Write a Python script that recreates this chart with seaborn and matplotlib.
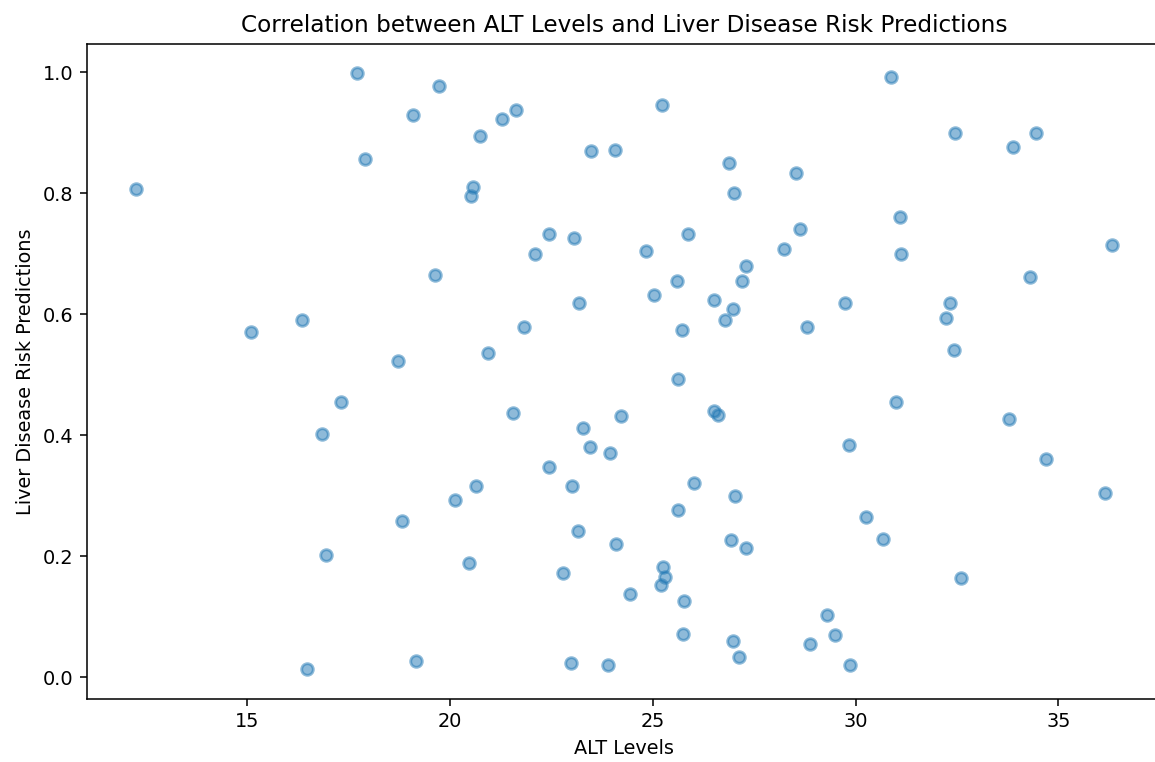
import matplotlib
matplotlib.use("Agg")
import matplotlib.pyplot as plt
import seaborn as sns
import pandas as pd

alt_levels = [
    12.25, 17.71, 19.73, 30.88, 19.09, 21.63, 21.28, 25.23, 20.74, 17.90,
    23.48, 24.07, 32.46, 34.45, 33.89, 26.88, 28.53, 20.57, 20.52, 27.00,
    31.10, 22.44, 23.06, 25.87, 28.63, 36.33, 22.10, 24.84, 28.24, 27.30,
    27.20, 31.12, 19.63, 34.31, 25.60, 15.09, 16.35, 23.18, 25.03, 26.51,
    29.74, 32.33, 21.83, 25.72, 26.78, 26.98, 28.80, 32.23, 32.43, 20.94,
    18.72, 25.62, 17.31, 21.55, 24.22, 26.51, 26.61, 31.00, 16.84, 23.28,
    23.45, 23.95, 33.79, 29.84, 34.70, 22.44, 26.02, 23.01, 20.64, 20.12,
    27.03, 36.16, 18.82, 30.26, 23.16, 25.62, 24.09, 26.93, 30.68, 27.30,
    16.94, 20.47, 25.25, 25.30, 22.79, 25.20, 24.44, 32.60, 25.77, 29.30,
    29.50, 28.88, 25.75, 26.98, 27.13, 16.47, 19.16, 22.98, 23.90, 29.86,
]

risk_predictions = [
    0.806, 0.998, 0.977, 0.992, 0.929, 0.937, 0.922, 0.945, 0.894, 0.856,
    0.869, 0.871, 0.899, 0.899, 0.876, 0.849, 0.833, 0.810, 0.796, 0.800,
    0.760, 0.732, 0.725, 0.732, 0.740, 0.715, 0.699, 0.705, 0.707, 0.680,
    0.654, 0.700, 0.664, 0.662, 0.654, 0.570, 0.591, 0.618, 0.631, 0.624,
    0.619, 0.618, 0.579, 0.573, 0.591, 0.608, 0.578, 0.594, 0.540, 0.536,
    0.523, 0.493, 0.455, 0.437, 0.432, 0.439, 0.434, 0.455, 0.401, 0.411,
    0.381, 0.371, 0.427, 0.384, 0.361, 0.348, 0.321, 0.315, 0.315, 0.293,
    0.300, 0.305, 0.258, 0.265, 0.242, 0.276, 0.220, 0.227, 0.228, 0.214,
    0.202, 0.189, 0.182, 0.166, 0.172, 0.152, 0.137, 0.164, 0.126, 0.103,
    0.070, 0.055, 0.071, 0.060, 0.033, 0.013, 0.026, 0.023, 0.020, 0.020,
]

df = pd.DataFrame({"ALT Levels": alt_levels,
                   "Liver Disease Risk Predictions": risk_predictions})

DPI = 139
fig, ax = plt.subplots(figsize=(1155 / DPI, 762 / DPI), dpi=DPI)
fig.subplots_adjust(left=0.0753, right=1.0052, top=0.9429, bottom=0.0827)

sns.scatterplot(data=df, x="ALT Levels", y="Liver Disease Risk Predictions",
                ax=ax, color="#1f77b4", alpha=0.5, s=36,
                edgecolor="#1f77b4", linewidth=1.5)

ax.set_title("Correlation between ALT Levels and Liver Disease Risk Predictions")
ax.set_xlabel("ALT Levels")
ax.set_ylabel("Liver Disease Risk Predictions")

fig.savefig("out.png", dpi=DPI)
